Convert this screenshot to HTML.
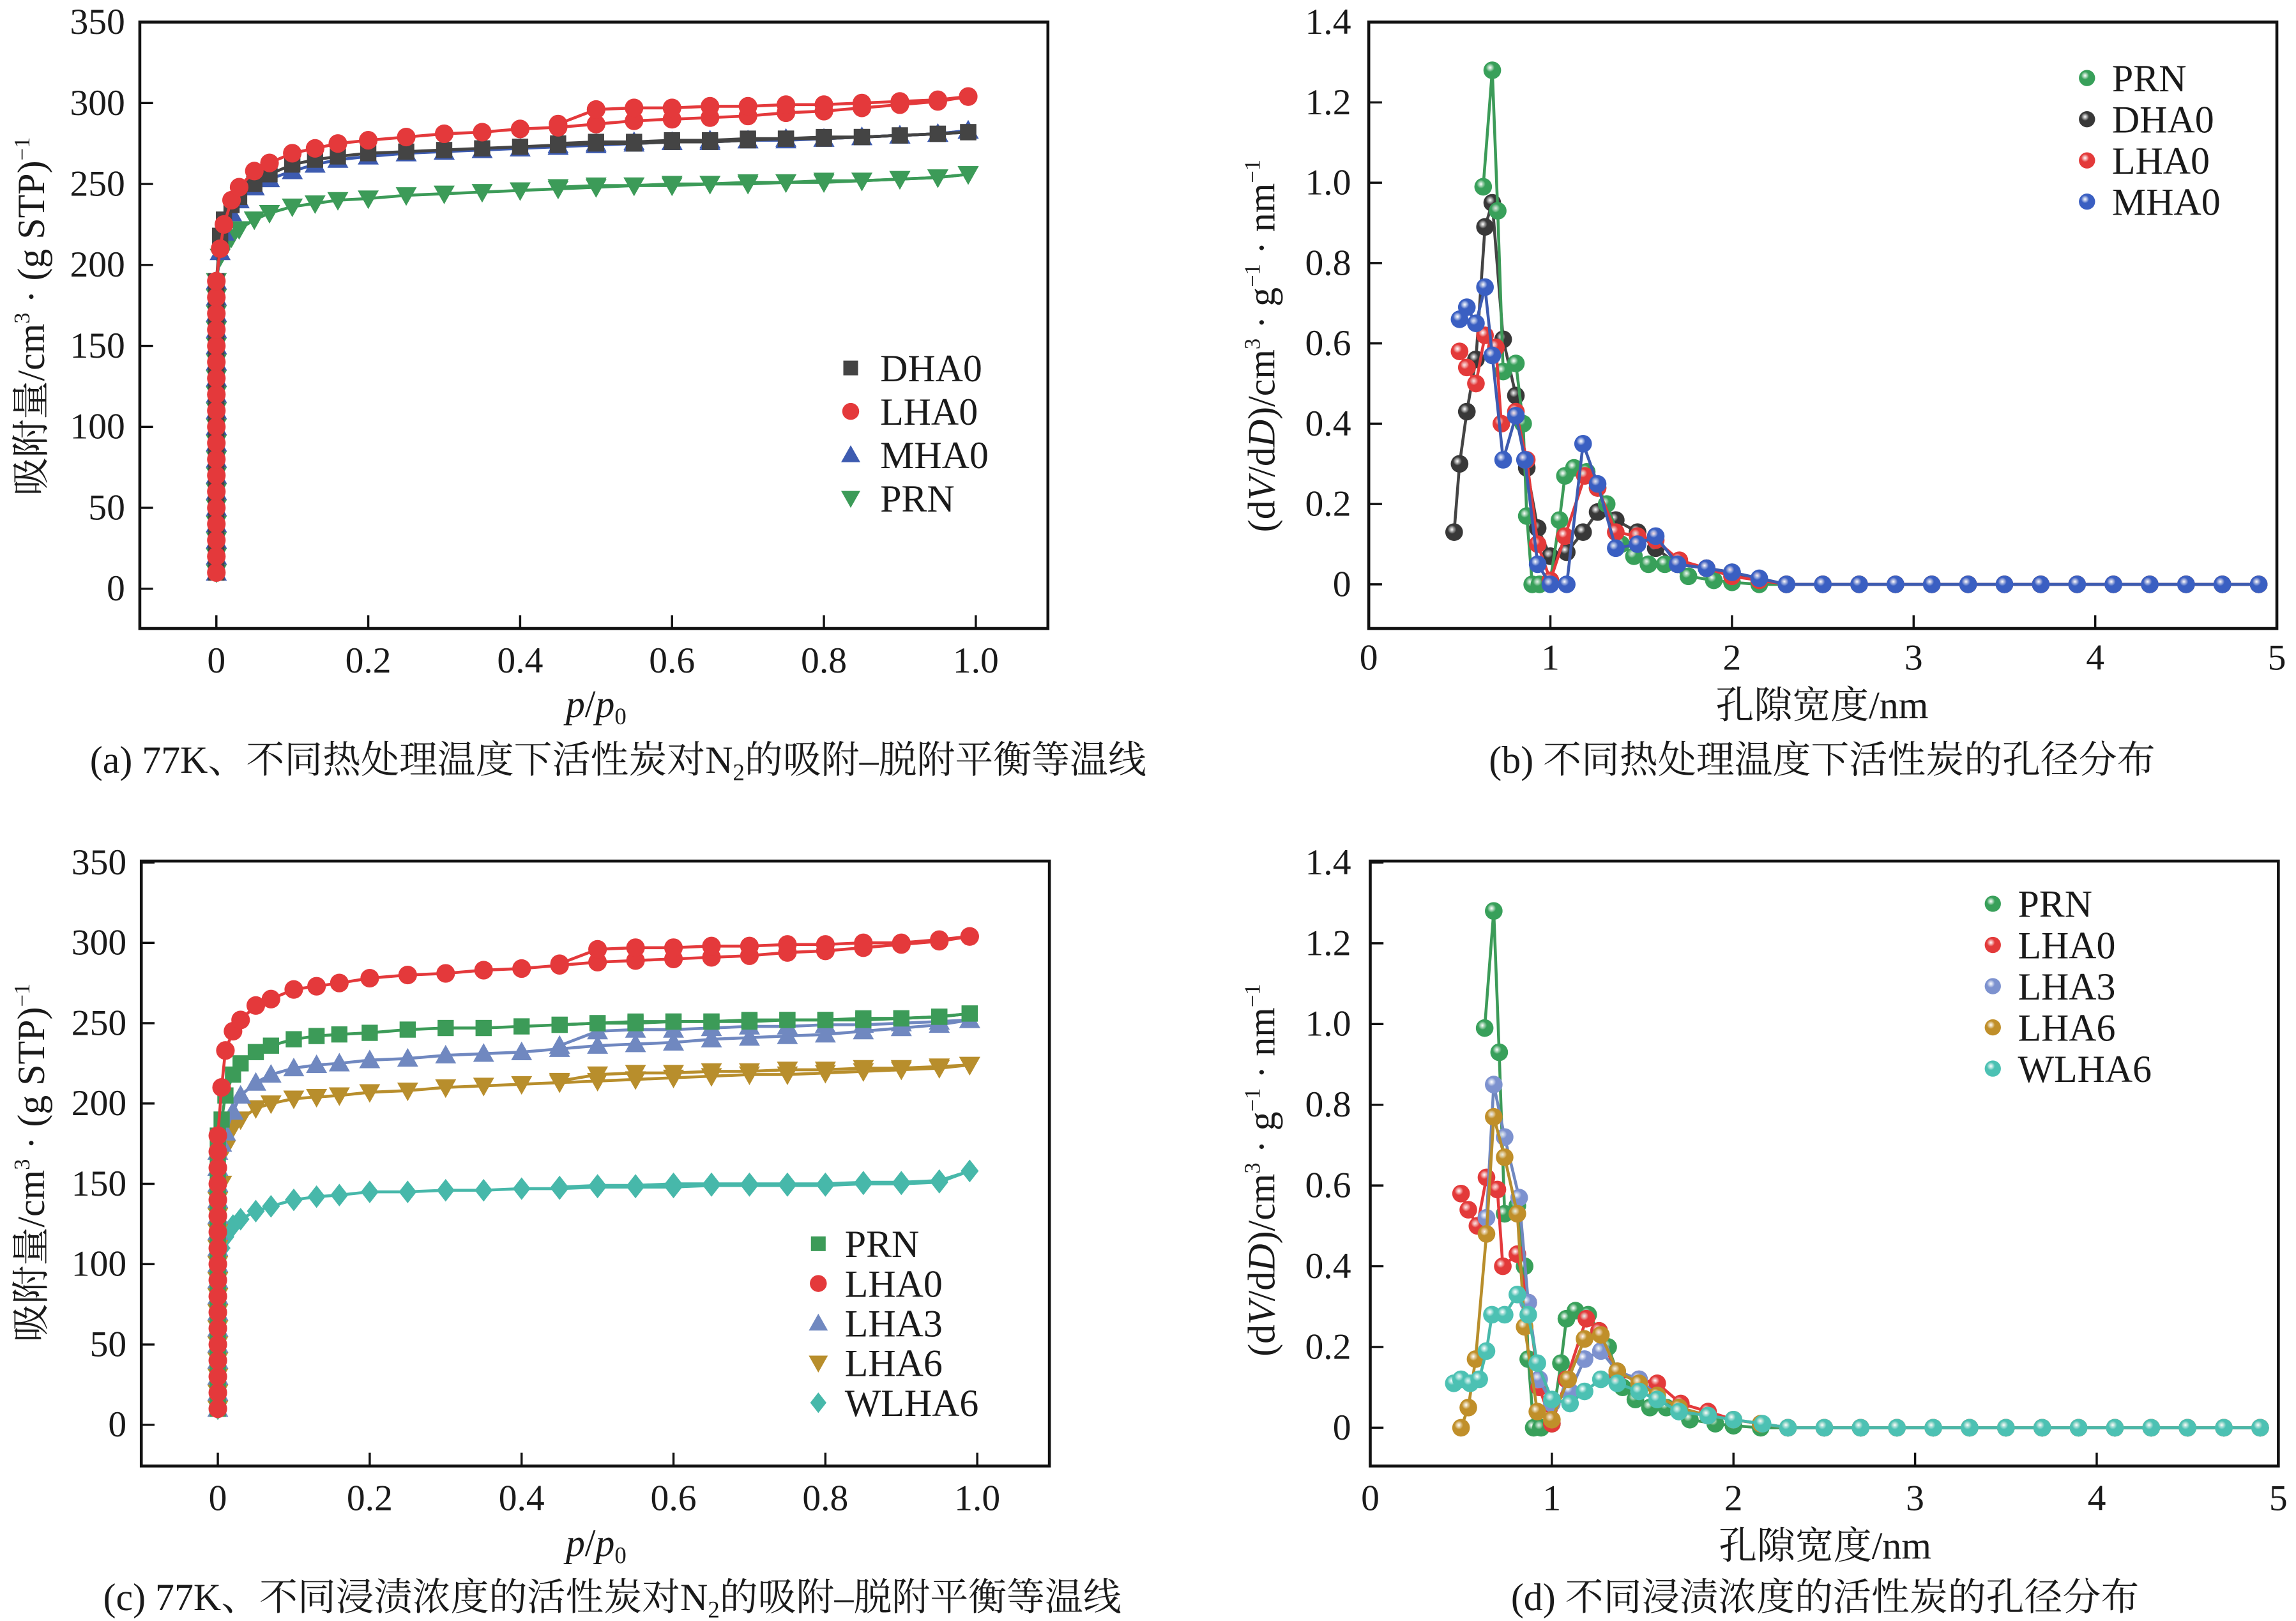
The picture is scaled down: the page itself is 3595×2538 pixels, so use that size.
<!DOCTYPE html>
<html><head><meta charset="utf-8"><style>
html,body{margin:0;padding:0;background:#fff;}
svg{display:block;}
text{font-family:"Liberation Serif","Noto Serif CJK SC","Noto Sans CJK SC",serif;fill:#1a1a1a;}
</style></head><body>
<svg id="fig" xmlns="http://www.w3.org/2000/svg" width="3595" height="2538" viewBox="0 0 1560 1101.3" preserveAspectRatio="none">
<text x="420" y="525" font-size="26" text-anchor="middle">(a) 77K、不同热处理温度下活性炭对N<tspan font-size="16" dy="5">2</tspan><tspan dy="-5">的吸附–脱附平衡等温线</tspan></text>
<text x="1238" y="525" font-size="26" text-anchor="middle">(b) 不同热处理温度下活性炭的孔径分布</text>
<text x="416" y="1094" font-size="26" text-anchor="middle">(c) 77K、不同浸渍浓度的活性炭对N<tspan font-size="16" dy="5">2</tspan><tspan dy="-5">的吸附–脱附平衡等温线</tspan></text>
<text x="1240" y="1094" font-size="26" text-anchor="middle">(d) 不同浸渍浓度的活性炭的孔径分布</text>
</svg>
<script>
// ---------- data ----------
const pGrid = [0.005,0.01,0.02,0.03,0.05,0.07,0.1,0.13,0.16,0.2,0.25,0.3,0.35,0.4,0.45,0.5,0.55,0.6,0.65,0.7,0.75,0.8,0.85,0.9,0.95,0.99];
const pDesGrid = [0.99,0.95,0.9,0.85,0.8,0.75,0.7,0.65,0.6,0.55,0.5,0.45];
const lowA = [10,20,30,40,50,60,70,80,90,100,110,120,130,140,150,160,170,180,190];
const aDHA0 = [218,228,237,242,250,256,262,265,267,269,270,271,272,273,274,275,275,276,276,277,278,278,279,280,281,282];
const aDHA0des = [282,281,280,279,279,278,278,277,277,276,276,275];
const aLHA0 = [210,225,240,248,258,263,269,272,275,277,279,281,282,284,285,287,289,290,291,292,294,295,297,299,301,304];
const aLHA0des = [304,302,301,300,299,299,298,298,297,297,296,287];
const aMHA0 = [208,220,232,240,248,253,258,262,265,267,269,270,271,272,273,274,275,276,276,277,277,278,279,280,281,283];
const aMHA0des = [283,281,280,279,278,278,277,277,276,276,275,274];
const aPRN = [205,210,217,222,228,232,236,238,240,241,243,244,245,246,247,248,249,249,250,250,251,251,252,253,254,256];
const aPRNdes = [256,254,253,252,252,251,251,250,250,249,249,248];

const lowC_PRN = [10,20,30,40,50,60,70,80,90,100,110,120,130,140,150,160,170,180];
const lowC_LHA0 = [10,20,30,40,50,60,70,80,90,100,110,120,130,140,150,160,170,180];
const lowC_LHA3 = [10,20,30,40,50,60,70,80,90,100,110,120,130,140,150,160,170];
const lowC_LHA6 = [10,20,30,40,50,60,70,80,90,100,110,120,130,140];
const lowC_WLHA6 = [10,20,30,40,50,60,70,80,90,100];
const cPRN = [190,205,218,225,232,236,240,242,243,244,246,247,247,248,249,250,250,251,251,251,252,252,252,253,254,256];
const cPRNdes = [256,254,253,253,252,252,252,251,251,251,250,249];
const cLHA0 = [210,233,245,252,261,265,271,273,275,278,280,281,283,284,286,288,289,290,291,292,294,295,297,299,301,304];
const cLHA0des = [304,302,300,300,299,299,298,298,297,297,296,287];
const cLHA3 = [175,182,195,205,213,218,222,224,225,227,228,230,231,232,234,236,237,238,240,241,242,243,245,247,249,252];
const cLHA3des = [252,251,250,249,249,248,248,247,246,246,245,236];
const cLHA6 = [150,172,185,190,197,200,203,204,205,207,208,210,211,212,213,214,215,216,217,218,218,219,220,221,222,224];
const cLHA6des = [224,223,222,222,221,221,220,220,219,219,218,214];
const cWLHA6 = [110,117,124,128,133,136,140,142,143,145,145,146,146,147,147,148,148,148,149,149,149,149,150,150,151,158];
const cWLHA6des = [158,152,151,151,150,150,150,150,150,149,149,148];

const tailX = [2.3,2.5,2.7,2.9,3.1,3.3,3.5,3.7,3.9,4.1,4.3,4.5,4.7,4.9];
const tailY = [0,0,0,0,0,0,0,0,0,0,0,0,0,0];
const xPRN = [0.63,0.68,0.71,0.74,0.81,0.85,0.87,0.90,0.94,1.0,1.05,1.08,1.13,1.2,1.26,1.31,1.39,1.46,1.54,1.63,1.76,1.9,2.0,2.15];
const yPRN = [0.99,1.28,0.93,0.53,0.55,0.40,0.17,0.0,0.0,0.01,0.16,0.27,0.29,0.28,0.24,0.20,0.10,0.07,0.05,0.05,0.02,0.01,0.005,0];
const xDHA0 = [0.47,0.50,0.54,0.59,0.64,0.68,0.74,0.81,0.87,0.93,1.0,1.09,1.18,1.26,1.36,1.48,1.58,1.70,1.86,2.0,2.15];
const yDHA0 = [0.13,0.30,0.43,0.56,0.89,0.95,0.61,0.47,0.29,0.14,0.07,0.08,0.13,0.18,0.16,0.13,0.09,0.05,0.04,0.03,0.01];
const xLHA0 = [0.50,0.54,0.59,0.64,0.70,0.73,0.81,0.87,0.93,1.0,1.08,1.19,1.26,1.36,1.48,1.58,1.71,1.86,2.0,2.15];
const yLHA0 = [0.58,0.54,0.50,0.62,0.59,0.40,0.43,0.31,0.10,0.01,0.12,0.27,0.24,0.13,0.12,0.11,0.06,0.04,0.02,0.01];
const xMHA0 = [0.50,0.54,0.59,0.64,0.68,0.74,0.81,0.86,0.93,1.0,1.09,1.18,1.26,1.36,1.48,1.58,1.70,1.86,2.0,2.15];
const yMHA0 = [0.66,0.69,0.65,0.74,0.57,0.31,0.42,0.31,0.05,0.0,0.0,0.35,0.25,0.09,0.10,0.12,0.05,0.04,0.03,0.015];
const xLHA3 = [0.64,0.68,0.74,0.82,0.87,0.93,1.0,1.1,1.18,1.27,1.36,1.48,1.58,1.70,1.86,2.0,2.15];
const yLHA3 = [0.52,0.85,0.72,0.57,0.31,0.12,0.06,0.09,0.17,0.19,0.14,0.12,0.08,0.05,0.03,0.02,0.01];
const xLHA6 = [0.50,0.54,0.58,0.64,0.68,0.74,0.81,0.85,0.92,1.0,1.09,1.18,1.27,1.36,1.48,1.58,1.70,1.86,2.0,2.15];
const yLHA6 = [0.0,0.05,0.17,0.48,0.77,0.67,0.53,0.25,0.04,0.02,0.12,0.22,0.23,0.14,0.11,0.08,0.05,0.03,0.02,0.01];
const xWLHA6 = [0.46,0.50,0.55,0.60,0.64,0.67,0.74,0.81,0.87,0.92,1.0,1.1,1.18,1.27,1.36,1.48,1.58,1.70,1.86,2.0,2.16];
const yWLHA6 = [0.11,0.12,0.11,0.12,0.19,0.28,0.28,0.33,0.28,0.16,0.07,0.06,0.09,0.12,0.11,0.09,0.07,0.04,0.03,0.02,0.01];

const isoTicksX = [0,0.2,0.4,0.6,0.8,1.0];
const isoTickLabelsX = ['0','0.2','0.4','0.6','0.8','1.0'];
const isoTicksY = [0,50,100,150,200,250,300,350];
const psdTicksX = [0,1,2,3,4,5];
const psdTicksY = [0,0.2,0.4,0.6,0.8,1.0,1.2,1.4];
const psdTickLabelsY = ['0','0.2','0.4','0.6','0.8','1.0','1.2','1.4'];

// ---------- drawing ----------
const NS='http://www.w3.org/2000/svg';
const svg=document.getElementById('fig');
function el(tag,attrs,parent){const e=document.createElementNS(NS,tag);for(const k in attrs)e.setAttribute(k,attrs[k]);(parent||svg).appendChild(e);return e;}
function lin(d0,d1,p0,p1){return v=>p0+(v-d0)*(p1-p0)/(d1-d0);}

const defs=el('defs',{});
function grad(id,c){const g=el('radialGradient',{id:id,cx:'0.38',cy:'0.35',r:'0.7'},defs);el('stop',{offset:'0','stop-color':'#ffffff','stop-opacity':'0.85'},g);el('stop',{offset:'0.35','stop-color':c},g);el('stop',{offset:'1','stop-color':c},g);}

function frame(name,box,xs,ys,xt,xtl,yt,ytl,xlabY,ylabX){
  const g=el('g',{});
  
  
  const r=el('rect',{x:box.L,y:box.T,width:box.R-box.L,height:box.B-box.T,fill:'none',stroke:'#111','stroke-width':2},g);
  
  
  xt.forEach((v,i)=>{const x=xs(v);
    const t=el('line',{x1:x,x2:x,y1:box.B,y2:box.B-9,stroke:'#111','stroke-width':1.5},g);
    
    
    const tx=el('text',{x:x,y:xlabY,'font-size':25,'text-anchor':'middle'},g);tx.textContent=xtl[i];
    
    });
  yt.forEach((v,i)=>{const y=ys(v);
    const t=el('line',{x1:box.L,x2:box.L+9,y1:y,y2:y,stroke:'#111','stroke-width':1.5},g);
    
    
    const tx=el('text',{x:ylabX,y:y+8,'font-size':25,'text-anchor':'end'},g);tx.textContent=ytl[i];
    
    });
}

function marker(g,shape,x,y,c,s){
  let m;
  if(shape==='sq') m=el('rect',{x:x-s,y:y-s,width:2*s,height:2*s,fill:c},g);
  else if(shape==='ci') m=el('circle',{cx:x,cy:y,r:s*1.15,fill:c},g);
  else if(shape==='tu') m=el('polygon',{points:`${x},${y-s*1.3} ${x-s*1.3},${y+s} ${x+s*1.3},${y+s}`,fill:c},g);
  else if(shape==='td') m=el('polygon',{points:`${x},${y+s*1.3} ${x-s*1.3},${y-s} ${x+s*1.3},${y-s}`,fill:c},g);
  else if(shape==='di') m=el('polygon',{points:`${x},${y-s*1.4} ${x+s*1.1},${y} ${x},${y+s*1.4} ${x-s*1.1},${y}`,fill:c},g);
  else if(shape==='ball') m=el('circle',{cx:x,cy:y,r:s,fill:c},g);
  return m;
}

function isoSeries(name,xs,ys,low,ads,des,shape,c){
  const g=el('g',{});
  
  
  const pts=[];
  low.forEach(v=>pts.push([0,v]));
  ads.forEach((v,i)=>pts.push([pGrid[i],v]));
  const dpts=des.map((v,i)=>[pDesGrid[i],v]);
  el('polyline',{points:pts.map(p=>xs(p[0])+','+ys(p[1])).join(' '),fill:'none',stroke:c,'stroke-width':2},g);
  el('polyline',{points:dpts.map(p=>xs(p[0])+','+ys(p[1])).join(' '),fill:'none',stroke:c,'stroke-width':2},g);
  pts.concat(dpts).forEach(p=>{const m=marker(g,shape,xs(p[0]),ys(p[1]),c,5.5);
    
    });
}

function psdSeries(name,xs,ys,X,Y,c,gid){
  const g=el('g',{});
  
  
  const px=X.concat(tailX), py=Y.concat(tailY);
  el('polyline',{points:px.map((v,i)=>xs(v)+','+ys(py[i])).join(' '),fill:'none',stroke:c,'stroke-width':2},g);
  px.forEach((v,i)=>{const m=marker(g,'ball',xs(v),ys(py[i]),'url(#'+gid+')',6);
    
    });
}

function legend(name,x,y0,dy,items,textX){
  const g=el('g',{});
  
  
  items.forEach((it,i)=>{const y=y0+i*dy;
    const m=marker(g,it[1],x,y,it[2],it[1]==='ball'?5.5:5);
    
    
    const t=el('text',{x:textX,y:y+9,'font-size':26},g);t.textContent=it[0];
    
    });
}
function label(name,txt,x,y,rot,size){
  const t=el('text',{x:x,y:y,'font-size':size,'text-anchor':'middle',transform:rot?`rotate(-90 ${x} ${y})`:''});
  t.innerHTML=txt;
  
  
}

const C={green:'#3c9b58',red:'#e4393b',blue:'#3d5bb0',dark:'#444444',lblue:'#7088c0',gold:'#b88e2c',teal:'#47b8aa'};
const CB={green:'#38a05a',red:'#e33a3a',blue:'#3a5fc2',dark:'#383838',lblue:'#7d92cf',gold:'#c08f2a',teal:'#4cc1b3'};
for(const k in CB)grad('g-'+k,CB[k]);

// Panel a
{const box={L:95,R:712,T:15,B:427};const xs=lin(0,1,147,663),ys=lin(0,350,400,15);
frame('panel-a',box,xs,ys,isoTicksX,isoTickLabelsX,isoTicksY,isoTicksY.map(String),457,85);
isoSeries('series-a-prn',xs,ys,lowA,aPRN,aPRNdes,'td',C.green);
isoSeries('series-a-mha0',xs,ys,lowA,aMHA0,aMHA0des,'tu',C.blue);
isoSeries('series-a-dha0',xs,ys,lowA,aDHA0,aDHA0des,'sq',C.dark);
isoSeries('series-a-lha0',xs,ys,lowA,aLHA0,aLHA0des,'ci',C.red);
legend('legend-a',578,250,29.5,[['DHA0','sq',C.dark],['LHA0','ci',C.red],['MHA0','tu',C.blue],['PRN','td',C.green]],598);
label('x-axis-title-a','<tspan font-style="italic">p</tspan>/<tspan font-style="italic">p</tspan><tspan font-size="16" dy="5">0</tspan>',405,487,false,26);
label('y-axis-title-a','吸附量/cm<tspan font-size="15" dy="-10">3</tspan><tspan dy="10"> · (g STP)</tspan><tspan font-size="15" dy="-10">−1</tspan>',30,215,true,26);}

// Panel c
{const box={L:96,R:713,T:585,B:996};const xs=lin(0,1,148,664),ys=lin(0,350,968,586);
frame('panel-c',box,xs,ys,isoTicksX,isoTickLabelsX,isoTicksY,isoTicksY.map(String),1026,86);
isoSeries('series-c-wlha6',xs,ys,lowC_WLHA6,cWLHA6,cWLHA6des,'di',C.teal);
isoSeries('series-c-lha6',xs,ys,lowC_LHA6,cLHA6,cLHA6des,'td',C.gold);
isoSeries('series-c-lha3',xs,ys,lowC_LHA3,cLHA3,cLHA3des,'tu',C.lblue);
isoSeries('series-c-prn',xs,ys,lowC_PRN,cPRN,cPRNdes,'sq',C.green);
isoSeries('series-c-lha0',xs,ys,lowC_LHA0,cLHA0,cLHA0des,'ci',C.red);
legend('legend-c',556,845,27,[['PRN','sq',C.green],['LHA0','ci',C.red],['LHA3','tu',C.lblue],['LHA6','td',C.gold],['WLHA6','di',C.teal]],574);
label('x-axis-title-c','<tspan font-style="italic">p</tspan>/<tspan font-style="italic">p</tspan><tspan font-size="16" dy="5">0</tspan>',405,1057,false,26);
label('y-axis-title-c','吸附量/cm<tspan font-size="15" dy="-10">3</tspan><tspan dy="10"> · (g STP)</tspan><tspan font-size="15" dy="-10">−1</tspan>',30,790,true,26);}

// Panel b
{const box={L:930,R:1547,T:15,B:427};const xs=lin(0,5,930,1547),ys=lin(0,1.4,397,15);
frame('panel-b',box,xs,ys,psdTicksX,psdTicksX.map(String),psdTicksY,psdTickLabelsY,455,918);
psdSeries('series-b-dha0',xs,ys,xDHA0,yDHA0,C.dark,'g-dark');
psdSeries('series-b-prn',xs,ys,xPRN,yPRN,C.green,'g-green');
psdSeries('series-b-lha0',xs,ys,xLHA0,yLHA0,C.red,'g-red');
psdSeries('series-b-mha0',xs,ys,xMHA0,yMHA0,C.blue,'g-blue');
legend('legend-b',1418,53,28,[['PRN','ball','url(#g-green)'],['DHA0','ball','url(#g-dark)'],['LHA0','ball','url(#g-red)'],['MHA0','ball','url(#g-blue)']],1435);
label('x-axis-title-b','孔隙宽度/nm',1238,488,false,26);
label('y-axis-title-b','(d<tspan font-style="italic">V</tspan>/d<tspan font-style="italic">D</tspan>)/cm<tspan font-size="15" dy="-10">3</tspan><tspan dy="10"> · g</tspan><tspan font-size="15" dy="-10">−1</tspan><tspan dy="10"> · nm</tspan><tspan font-size="15" dy="-10">−1</tspan>',866,235,true,26);}

// Panel d
{const box={L:931,R:1548,T:585,B:996};const xs=lin(0,5,931,1548),ys=lin(0,1.4,970,586);
frame('panel-d',box,xs,ys,psdTicksX,psdTicksX.map(String),psdTicksY,psdTickLabelsY,1026,918);
psdSeries('series-d-prn',xs,ys,xPRN,yPRN,C.green,'g-green');
psdSeries('series-d-lha0',xs,ys,xLHA0,yLHA0,C.red,'g-red');
psdSeries('series-d-lha3',xs,ys,xLHA3,yLHA3,C.lblue,'g-lblue');
psdSeries('series-d-lha6',xs,ys,xLHA6,yLHA6,C.gold,'g-gold');
psdSeries('series-d-wlha6',xs,ys,xWLHA6,yWLHA6,C.teal,'g-teal');
legend('legend-d',1354,614,28,[['PRN','ball','url(#g-green)'],['LHA0','ball','url(#g-red)'],['LHA3','ball','url(#g-lblue)'],['LHA6','ball','url(#g-gold)'],['WLHA6','ball','url(#g-teal)']],1371);
label('x-axis-title-d','孔隙宽度/nm',1240,1059,false,26);
label('y-axis-title-d','(d<tspan font-style="italic">V</tspan>/d<tspan font-style="italic">D</tspan>)/cm<tspan font-size="15" dy="-10">3</tspan><tspan dy="10"> · g</tspan><tspan font-size="15" dy="-10">−1</tspan><tspan dy="10"> · nm</tspan><tspan font-size="15" dy="-10">−1</tspan>',866,795,true,26);}
</script>
</body></html>
